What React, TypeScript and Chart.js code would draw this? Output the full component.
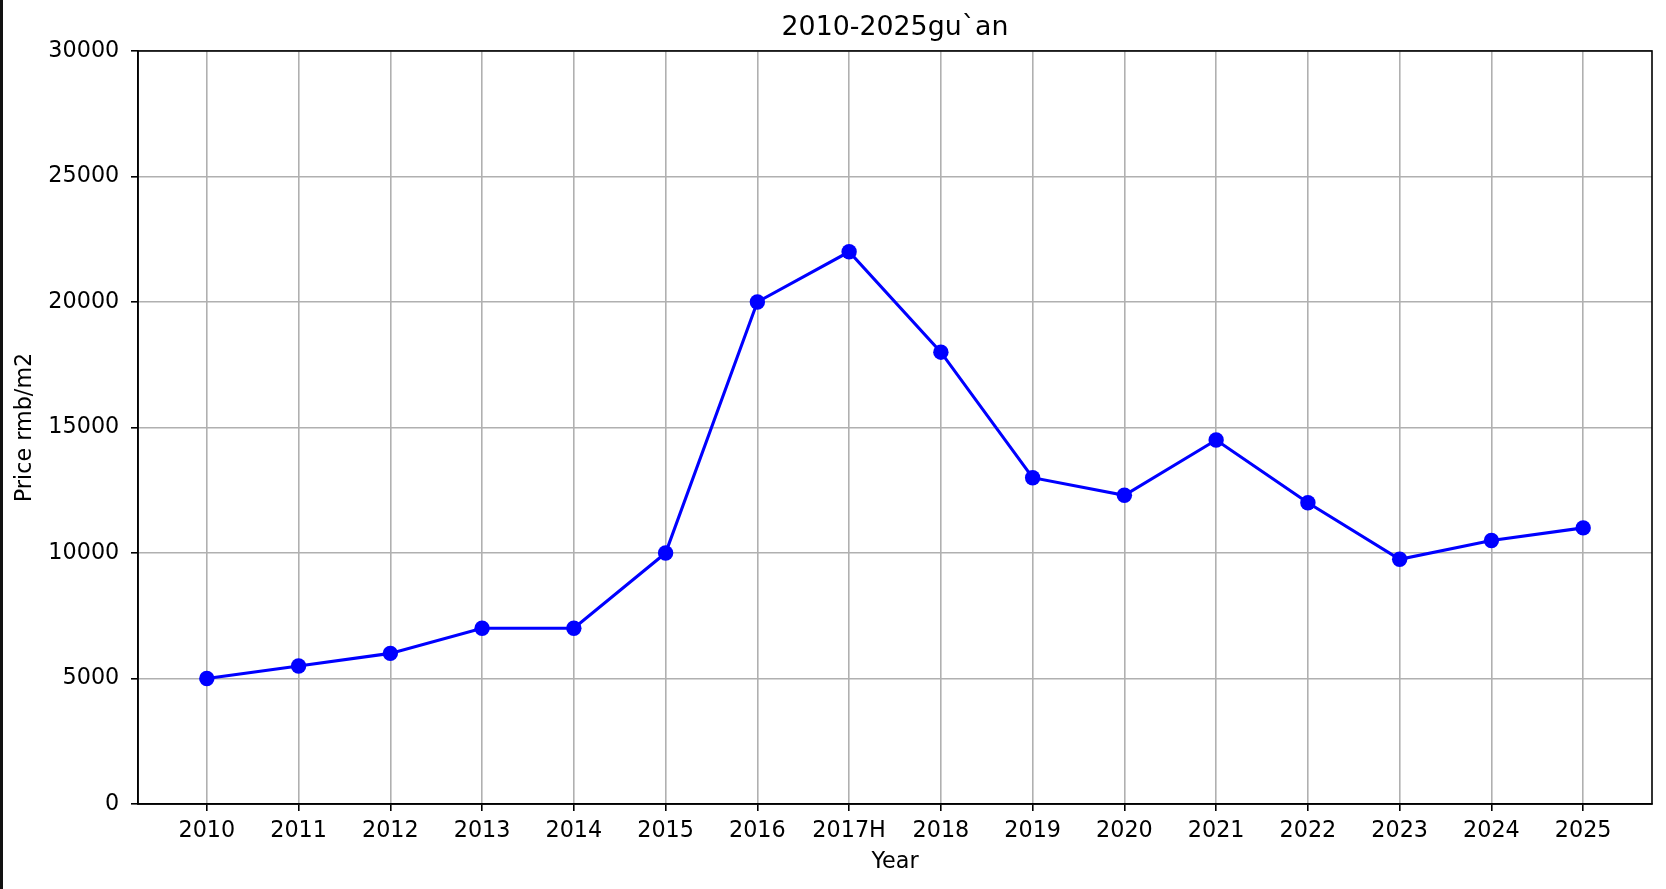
import React, { useEffect, useRef } from 'react';
import { Chart, registerables } from 'chart.js';

Chart.register(...registerables);

const chartTitle = '2010-2025gu`an';
const xAxisTitle = 'Year';
const yAxisTitle = 'Price rmb/m2';

const years = ['2010', '2011', '2012', '2013', '2014', '2015', '2016', '2017H', '2018', '2019', '2020', '2021', '2022', '2023', '2024', '2025'];
const prices = [5000, 5500, 6000, 7000, 7000, 10000, 20000, 22000, 18000, 13000, 12300, 14500, 12000, 9750, 10500, 11000];
const yTickValues = [0, 5000, 10000, 15000, 20000, 25000, 30000];

const FONT = "'DejaVu Sans', 'Liberation Sans', sans-serif";
const TICK_SIZE = 22.3;
const TITLE_SIZE = 26.8;

const framePlugin = {
  id: 'frame',
  afterDatasetsDraw(chart: any) {
    const { ctx, chartArea } = chart;
    ctx.save();
    ctx.strokeStyle = '#000';
    ctx.lineWidth = 1.6;
    ctx.strokeRect(chartArea.left, chartArea.top, chartArea.right - chartArea.left, chartArea.bottom - chartArea.top);
    ctx.restore();
  },
};

export default function App() {
  const canvasRef = useRef<HTMLCanvasElement | null>(null);

  useEffect(() => {
    const canvas = canvasRef.current;
    if (!canvas) return;
    const points = prices.map((v, i) => ({ x: i, y: v }));
    const chart = new Chart(canvas, {
      type: 'line',
      data: {
        datasets: [
          {
            label: 'price',
            data: points,
            borderColor: '#0000ff',
            backgroundColor: '#0000ff',
            borderWidth: 3.1,
            pointRadius: 7.7,
            pointHoverRadius: 7.7,
            pointBorderWidth: 0,
            pointBackgroundColor: '#0000ff',
            tension: 0,
            fill: false,
          },
        ],
      },
      options: {
        animation: false,
        responsive: false,
        devicePixelRatio: 1,
        layout: { padding: { left: 0, right: 14, top: 0, bottom: 0 } },
        plugins: {
          legend: { display: false },
          tooltip: { enabled: false },
          title: {
            display: true,
            fullSize: false,
            text: chartTitle,
            color: '#000',
            font: { family: FONT, size: TITLE_SIZE, weight: 'normal', lineHeight: 1.2 },
            padding: { top: 12, bottom: 6.8 },
          },
        },
        scales: {
          x: {
            type: 'linear',
            min: -0.75,
            max: 15.75,
            afterBuildTicks: (scale: any) => {
              scale.ticks = years.map((_, i) => ({ value: i }));
            },
            afterFit: (scale: any) => {
              scale.height = 85;
            },
            ticks: {
              autoSkip: false,
              maxRotation: 0,
              minRotation: 0,
              padding: 6.7,
              color: '#000',
              font: { family: FONT, size: TICK_SIZE, lineHeight: 1.2 },
              callback: (value: any) => years[Math.round(Number(value))] ?? '',
            },
            grid: {
              color: '#b0b0b0',
              lineWidth: 1.6,
              tickColor: '#000',
              tickLength: 7,
              drawTicks: true,
            },
            border: { display: true, color: '#000', width: 1.6 },
            title: {
              display: true,
              text: xAxisTitle,
              color: '#000',
              font: { family: FONT, size: TICK_SIZE, lineHeight: 1.2 },
              padding: { top: 0, bottom: 13.9 },
            },
          },
          y: {
            type: 'linear',
            min: 0,
            max: 30000,
            afterBuildTicks: (scale: any) => {
              scale.ticks = yTickValues.map((v) => ({ value: v }));
            },
            afterFit: (scale: any) => {
              scale.width = 138;
            },
            ticks: {
              padding: 11.7,
              color: '#000',
              font: { family: FONT, size: TICK_SIZE, lineHeight: 1.2 },
              callback: (value: any) => String(value),
            },
            grid: {
              color: '#b0b0b0',
              lineWidth: 1.6,
              tickColor: '#000',
              tickLength: 7,
              drawTicks: true,
            },
            border: { display: true, color: '#000', width: 1.6 },
            title: {
              display: true,
              text: yAxisTitle,
              color: '#000',
              font: { family: FONT, size: TICK_SIZE, lineHeight: 1.2 },
              padding: { top: 12, bottom: 0 },
            },
          },
        },
      },
      plugins: [framePlugin],
    } as any);
    return () => chart.destroy();
  }, []);

  return (
    <div style={{ position: 'fixed', left: 0, top: 0, width: 1666, height: 889, background: '#fff' }}>
      <canvas ref={canvasRef} width={1666} height={889} style={{ display: 'block', width: 1666, height: 889 }} />
      <div style={{ position: 'absolute', left: 0, top: 0, width: 3, height: 889, background: '#111' }} />
    </div>
  );
}
